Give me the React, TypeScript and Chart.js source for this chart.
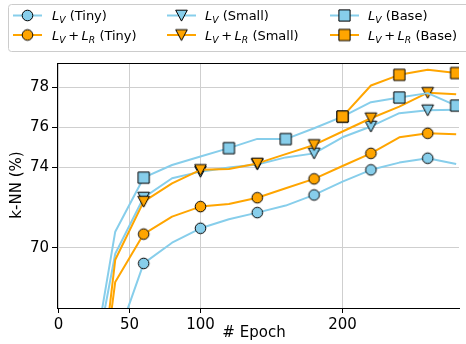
import React, { useEffect, useRef } from "react";
import { Chart, registerables } from "chart.js";

Chart.register(...registerables);

// ---- data ----
const epochs = [20, 40, 60, 80, 100, 120, 140, 160, 180, 200, 220, 240, 260, 280];
const tinyLv = [60.0, 65.2, 69.22, 70.25, 70.97, 71.42, 71.75, 72.1, 72.63, 73.29, 73.88, 74.24, 74.46, 74.17];
const tinyLvLr = [57.5, 68.3, 70.68, 71.55, 72.05, 72.18, 72.49, 72.96, 73.43, 74.07, 74.7, 75.5, 75.7, 75.65];
const smallLv = [62.2, 69.7, 72.5, 73.46, 73.79, 74.0, 74.15, 74.5, 74.7, 75.5, 76.04, 76.7, 76.85, 76.87];
const smallLvLr = [57.4, 69.4, 72.3, 73.21, 73.88, 73.92, 74.2, 74.66, 75.12, 75.79, 76.45, 77.03, 77.72, 77.65];
const baseLv = [62.45, 70.8, 73.49, 74.12, 74.54, 74.96, 75.42, 75.41, 75.95, 76.53, 77.25, 77.48, 77.7, 77.08];
const baseLvLr = [null, null, null, null, null, null, null, null, null, 76.53, 78.08, 78.61, 78.86, 78.7];

const tinySmallMarkEpochs = [60, 100, 140, 180, 220, 260];
const baseMarkEpochs = [60, 120, 160, 200, 240, 280];

const xTicks = [0, 50, 100, 200];
const yTicks = [70, 74, 76, 78];

const SKY = "#87ceeb";
const ORANGE = "#ffa500";
const FONT = "DejaVu Sans";

type Shape = "circle" | "triangle" | "square";

function makeMarker(shape: Shape, fill: string): HTMLCanvasElement {
  const c = document.createElement("canvas");
  c.width = 15;
  c.height = 15;
  const g = c.getContext("2d")!;
  const m = 7.5;
  g.fillStyle = fill;
  g.strokeStyle = "#000";
  g.lineWidth = 1;
  g.lineJoin = "miter";
  g.beginPath();
  if (shape === "circle") g.arc(m, m, 5.3, 0, Math.PI * 2);
  else if (shape === "square") g.rect(m - 5.6, m - 5.6, 11.2, 11.2);
  else {
    g.moveTo(m - 5.8, m - 5.3);
    g.lineTo(m + 5.8, m - 5.3);
    g.lineTo(m, m + 5.6);
    g.closePath();
  }
  g.fill();
  g.stroke();
  return c;
}

type SeriesDef = {
  label: string;
  sub2: boolean;
  size: string;
  data: (number | null)[];
  color: string;
  shape: Shape;
  marks: number[];
};

const series: SeriesDef[] = [
  { label: "Tiny", sub2: false, size: "Tiny", data: tinyLv, color: SKY, shape: "circle", marks: tinySmallMarkEpochs },
  { label: "Tiny", sub2: true, size: "Tiny", data: tinyLvLr, color: ORANGE, shape: "circle", marks: tinySmallMarkEpochs },
  { label: "Small", sub2: false, size: "Small", data: smallLv, color: SKY, shape: "triangle", marks: tinySmallMarkEpochs },
  { label: "Small", sub2: true, size: "Small", data: smallLvLr, color: ORANGE, shape: "triangle", marks: tinySmallMarkEpochs },
  { label: "Base", sub2: false, size: "Base", data: baseLv, color: SKY, shape: "square", marks: baseMarkEpochs },
  { label: "Base", sub2: true, size: "Base", data: baseLvLr, color: ORANGE, shape: "square", marks: baseMarkEpochs },
];

function drawLegendText(ctx: CanvasRenderingContext2D, x: number, y: number, withR: boolean, size: string) {
  const fs = 13;
  const sub = 9.2;
  const drawL = (letter: string) => {
    ctx.font = `italic ${fs}px "${FONT}"`;
    ctx.fillText("L", x, y);
    x += ctx.measureText("L").width;
    ctx.font = `italic ${sub}px "${FONT}"`;
    ctx.fillText(letter, x, y + 2.8);
    x += ctx.measureText(letter).width;
  };
  drawL("V");
  if (withR) {
    ctx.font = `${fs}px "${FONT}"`;
    x += 2.6;
    ctx.fillText("+", x, y);
    x += ctx.measureText("+").width + 2.6;
    drawL("R");
  }
  ctx.font = `${fs}px "${FONT}"`;
  ctx.fillText(` (${size})`, x, y);
}

export default function App() {
  const ref = useRef<HTMLCanvasElement | null>(null);

  useEffect(() => {
    const canvas = ref.current;
    if (!canvas) return;
    const markers = series.map((s) => makeMarker(s.shape, s.color));

    // matplotlib draws later series on top; Chart.js draws dataset 0 last
    const order = [5, 4, 3, 2, 1, 0];
    const datasets = order.map((i) => {
      const s = series[i];
      return {
        label: `${s.sub2 ? "Lv+Lr" : "Lv"} (${s.size})`,
        data: epochs.map((e, k) => ({ x: e, y: s.data[k] })),
        borderColor: s.color,
        backgroundColor: s.color,
        borderWidth: 2,
        borderJoinStyle: "round" as const,
        tension: 0,
        spanGaps: false,
        pointStyle: markers[i],
        pointRadius: (c: any) => (s.marks.includes(epochs[c.dataIndex]) ? 5 : 0),
        pointHoverRadius: 0,
      };
    });

    const decor = {
      id: "decor",
      afterDraw(chart: any) {
        const ctx: CanvasRenderingContext2D = chart.ctx;
        const a = chart.chartArea;
        ctx.save();
        // top spine
        ctx.strokeStyle = "#000";
        ctx.lineWidth = 1;
        ctx.beginPath();
        const ty = Math.round(a.top) + 0.5;
        ctx.moveTo(a.left, ty);
        ctx.lineTo(a.right, ty);
        ctx.stroke();

        // axis titles
        ctx.fillStyle = "#000";
        ctx.font = `15px "${FONT}"`;
        ctx.textAlign = "center";
        ctx.textBaseline = "middle";
        ctx.fillText("# Epoch", 254, 333);
        ctx.save();
        ctx.translate(17.5, 185);
        ctx.rotate(-Math.PI / 2);
        ctx.fillText("k-NN (%)", 0, 0);
        ctx.restore();

        // legend frame
        ctx.beginPath();
        ctx.roundRect(8.5, 4.5, 470, 47, 3);
        ctx.fillStyle = "rgba(255,255,255,0.9)";
        ctx.fill();
        ctx.strokeStyle = "#cccccc";
        ctx.stroke();

        const handleX = [13, 167, 330];
        const textX = [52, 205, 368];
        const rowY = [15.5, 35];
        ctx.textAlign = "left";
        ctx.textBaseline = "alphabetic";
        series.forEach((s, i) => {
          const col = Math.floor(i / 2);
          const row = i % 2;
          const y = rowY[row];
          const hx = handleX[col];
          ctx.strokeStyle = s.color;
          ctx.lineWidth = 2;
          ctx.beginPath();
          ctx.moveTo(hx, y);
          ctx.lineTo(hx + 29, y);
          ctx.stroke();
          const mk = markers[i];
          ctx.drawImage(mk, hx + 14.5 - mk.width / 2, y - mk.height / 2);
          ctx.fillStyle = "#000";
          drawLegendText(ctx, textX[col], y + 4.8, s.sub2, s.size);
        });
        ctx.restore();
      },
    };

    const tickFont = { family: FONT, size: 15 };
    const chart = new Chart(canvas, {
      type: "line",
      data: { datasets: datasets as any },
      plugins: [decor],
      options: {
        animation: false,
        responsive: false,
        maintainAspectRatio: false,
        events: [],
        layout: { padding: { top: 63, left: 0, right: 0, bottom: 0 } },
        plugins: { legend: { display: false }, tooltip: { enabled: false } },
        scales: {
          x: {
            type: "linear",
            min: -1,
            max: 282,
            afterBuildTicks: (s: any) => {
              s.ticks = xTicks.map((v) => ({ value: v }));
            },
            afterFit: (s: any) => {
              s.height = 36;
              s.paddingLeft = 0;
              s.paddingRight = 0;
            },
            grid: { color: "#cfcfcf", lineWidth: 1, tickLength: 5, tickColor: "#000", drawTicks: true },
            border: { color: "#000", width: 1 },
            ticks: { font: tickFont, color: "#000", padding: 3, maxRotation: 0, autoSkip: false },
          },
          y: {
            type: "linear",
            min: 67,
            max: 79.2,
            afterBuildTicks: (s: any) => {
              s.ticks = yTicks.map((v) => ({ value: v }));
            },
            afterFit: (s: any) => {
              s.width = 57;
            },
            grid: { color: "#cfcfcf", lineWidth: 1, tickLength: 5, tickColor: "#000", drawTicks: true },
            border: { color: "#000", width: 1 },
            ticks: { font: tickFont, color: "#000", padding: 3, autoSkip: false },
          },
        },
      } as any,
    });
    return () => chart.destroy();
  }, []);

  return (
    <div style={{ position: "fixed", left: 0, top: 0, width: 466, height: 344, background: "#fff" }}>
      <canvas ref={ref} width={466} height={344} style={{ display: "block", width: 466, height: 344 }} />
    </div>
  );
}
